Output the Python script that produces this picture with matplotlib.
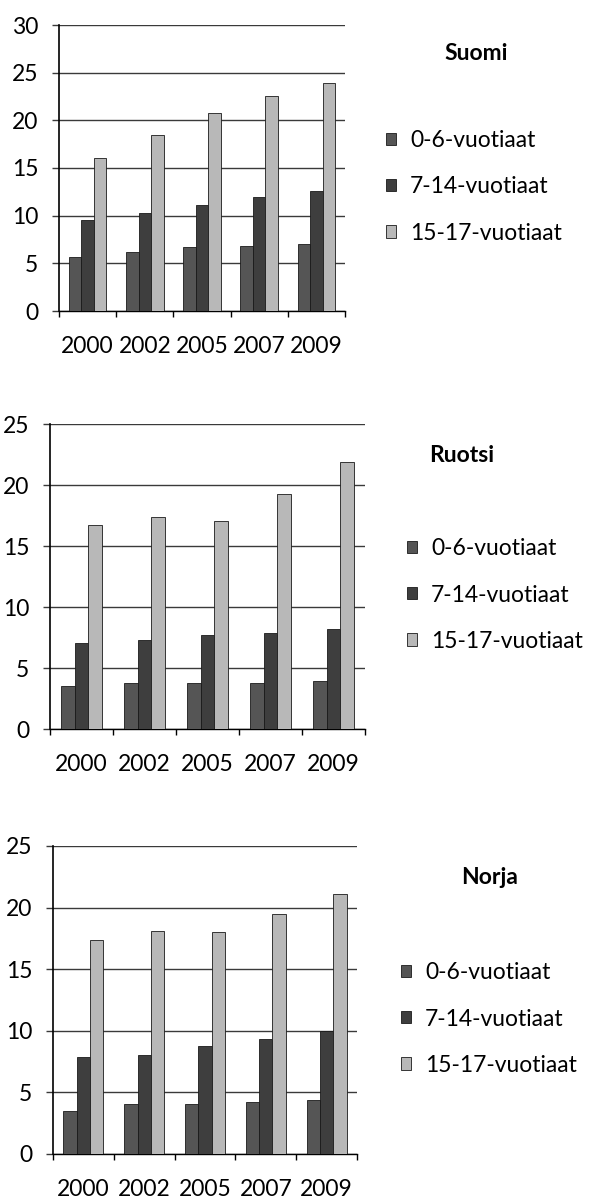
import matplotlib
matplotlib.use("Agg")
import matplotlib.pyplot as plt
import numpy as np

plt.rcParams['font.family'] = ['Lato', 'DejaVu Sans']

years = ["2000", "2002", "2005", "2007", "2009"]
series_labels = ["0-6-vuotiaat", "7-14-vuotiaat", "15-17-vuotiaat"]

suomi_0_6 = [5.7, 6.15, 6.7, 6.8, 7.05]
suomi_7_14 = [9.55, 10.3, 11.1, 12.0, 12.6]
suomi_15_17 = [16.1, 18.5, 20.8, 22.6, 23.9]

ruotsi_0_6 = [3.55, 3.8, 3.8, 3.8, 3.9]
ruotsi_7_14 = [7.05, 7.3, 7.7, 7.85, 8.2]
ruotsi_15_17 = [16.7, 17.4, 17.1, 19.3, 21.9]

norja_0_6 = [3.5, 4.05, 4.05, 4.2, 4.4]
norja_7_14 = [7.85, 8.05, 8.8, 9.35, 10.0]
norja_15_17 = [17.4, 18.1, 18.0, 19.5, 21.1]

colors = ["#555555", "#3e3e3e", "#b8b8b8"]

panels = [
    dict(title="Suomi", data=[suomi_0_6, suomi_7_14, suomi_15_17], ymax=30,
         rect=[59/589, 1-311/1200, 286/589, 286/1200],
         title_xy=(476, 54), leg_x=386, leg_y=187),
    dict(title="Ruotsi", data=[ruotsi_0_6, ruotsi_7_14, ruotsi_15_17], ymax=25,
         rect=[50/589, 1-729/1200, 315/589, 304.7/1200],
         title_xy=(462, 455), leg_x=407, leg_y=595),
    dict(title="Norja", data=[norja_0_6, norja_7_14, norja_15_17], ymax=25,
         rect=[53/589, 1-1154/1200, 304/589, 308/1200],
         title_xy=(490, 877), leg_x=401, leg_y=1019),
]

fig = plt.figure(figsize=(5.89, 12), dpi=100)
W, H = 589, 1200
fs = 16.5
bw = 0.22
x = np.arange(len(years))

for p in panels:
    ax = fig.add_axes(p["rect"])
    handles = []
    for k, vals in enumerate(p["data"]):
        b = ax.bar(x + (k - 1) * bw, vals, width=bw, color=colors[k],
                   edgecolor="#1a1a1a", linewidth=0.6, label=series_labels[k], zorder=3)
        handles.append(b)
    ax.set_xlim(-0.5, len(years) - 0.5)
    ax.set_ylim(0, p["ymax"])
    ax.set_yticks(np.arange(0, p["ymax"] + 1, 5))
    ax.yaxis.grid(True, color="#3a3a3a", linewidth=1.0, zorder=0)
    ax.set_axisbelow(True)
    ax.set_xticks(x)
    ax.set_xticklabels(years, fontsize=fs)
    ax.set_xticks(np.arange(-0.5, len(years), 1.0), minor=True)
    ax.tick_params(axis="x", which="major", length=0, pad=18)
    ax.tick_params(axis="x", which="minor", length=4, width=1, color="black", direction="out")
    ax.tick_params(axis="y", length=5, width=1, color="#3a3a3a", pad=10, labelsize=fs)
    for s in ["top", "right"]:
        ax.spines[s].set_visible(False)
    ax.spines["left"].set_color("black")
    ax.spines["bottom"].set_color("black")
    ax.spines["left"].set_linewidth(1.2)
    ax.spines["bottom"].set_linewidth(1.0)

    tx, ty = p["title_xy"]
    fig.text(tx / W, 1 - ty / H, p["title"], ha="center", va="center",
             fontsize=fs, fontweight="bold")
    fig.legend(handles=handles, labels=series_labels, loc="center left",
               bbox_to_anchor=(p["leg_x"] / W, 1 - p["leg_y"] / H),
               frameon=False, fontsize=fs, handlelength=0.45, handleheight=0.45,
               handletextpad=0.6, labelspacing=1.1, borderpad=0, borderaxespad=0)

fig.savefig("out.png", dpi=100)
